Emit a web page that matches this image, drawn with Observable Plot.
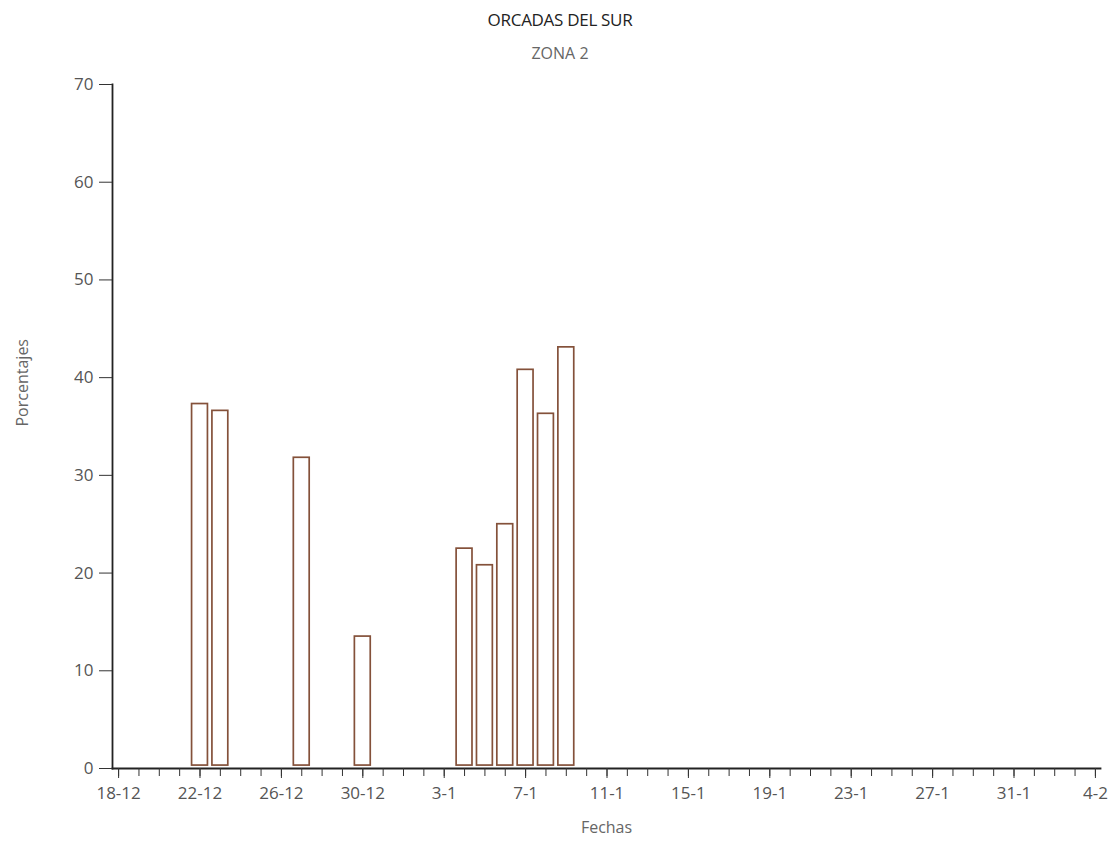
<!DOCTYPE html>
<html>
<head>
<meta charset="utf-8">
<script src="https://cdn.jsdelivr.net/npm/d3@7"></script>
<script src="https://cdn.jsdelivr.net/npm/@observablehq/plot@0.6"></script>
<style>
  body { margin: 0; background: #fff; font-family: "Open Sans", "DejaVu Sans", sans-serif; }
  #wrap { position: relative; width: 1120px; height: 845px; }
  #title { position: absolute; top: 8px; left: 0; width: 1120px; text-align: center; font-size: 17px; color: #222; letter-spacing: -0.3px; }
  #subtitle { position: absolute; top: 42px; left: 0; width: 1120px; text-align: center; font-size: 16px; color: #666; }
  #chart { position: absolute; top: 0; left: 0; }
</style>
</head>
<body>
<div id="wrap">
  <div id="chart"></div>
  <div id="title">ORCADAS DEL SUR</div>
  <div id="subtitle">ZONA 2</div>
</div>
<script>
// Data
const fechas = ["22-12", "23-12", "27-12", "30-12", "4-1", "5-1", "6-1", "7-1", "8-1", "9-1"];
const porcentajes = [37.3, 36.6, 31.8, 13.5, 22.5, 20.8, 25.0, 40.8, 36.3, 43.1];
const tickLabels = ["18-12", "22-12", "26-12", "30-12", "3-1", "7-1", "11-1", "15-1", "19-1", "23-1", "27-1", "31-1", "4-2"];
const yTicks = [0, 10, 20, 30, 40, 50, 60, 70];
const startLabel = "18-12";
const endLabel = "4-2";

// parse "d-m" into a UTC date (season Dec 1985 – Feb 1986)
function parseFecha(s) {
  const [d, m] = s.split("-").map(Number);
  const y = m === 12 ? 1985 : 1986;
  return new Date(Date.UTC(y, m - 1, d));
}
const DAY = 864e5;
const data = fechas.map((f, i) => ({ fecha: parseFecha(f), valor: porcentajes[i] }));
const start = parseFecha(startLabel);
const end = parseFecha(endLabel);
const dayTicks = d3.utcDay.range(start, new Date(+end + DAY));
const labelTicks = tickLabels.map(parseFecha);
const labelMap = new Map(tickLabels.map(t => [+parseFecha(t), t]));

const chart = Plot.plot({
  width: 1120,
  height: 845,
  marginTop: 84,
  marginBottom: 77,
  marginLeft: 112,
  marginRight: 20,
  style: { fontFamily: "'Open Sans', sans-serif", color: "#555", background: "transparent" },
  x: { type: "utc", domain: [new Date(+start - 0.3 * DAY), new Date(+end + 0.25 * DAY)] },
  y: { domain: [0, 70] },
  marks: [
    Plot.rectY(data, {
      x1: d => new Date(+d.fecha - 0.39 * DAY),
      x2: d => new Date(+d.fecha + 0.39 * DAY),
      y1: 0.3,
      y2: "valor",
      fill: "white",
      stroke: "#84513a",
      strokeWidth: 1.7
    }),
    Plot.frame({ anchor: "left", stroke: "#222", strokeWidth: 1.8 }),
    Plot.frame({ anchor: "bottom", stroke: "#222", strokeWidth: 1.8 }),
    Plot.axisY({ ticks: yTicks, tickSize: 13, tickPadding: 6, fontSize: 17, stroke: "#333", fill: "#555", label: null }),
    Plot.axisX({ ticks: dayTicks, tickSize: 8, tickFormat: () => "", stroke: "#333", label: null }),
    Plot.axisX({ ticks: labelTicks, tickSize: 10, tickPadding: 8, fontSize: 17, stroke: "#333", fill: "#555",
      tickFormat: d => labelMap.get(+d), label: null }),
    Plot.text(["Fechas"], { frameAnchor: "bottom", dy: 64, fontSize: 16, fill: "#666" }),
    Plot.text(["Porcentajes"], { frameAnchor: "left", dx: -90, rotate: -90, fontSize: 16, fill: "#666" })
  ]
});
document.getElementById("chart").appendChild(chart);
</script>
</body>
</html>
